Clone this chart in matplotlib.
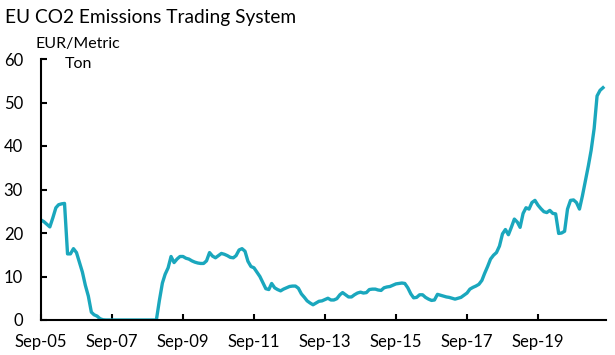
import matplotlib
matplotlib.use("Agg")
import matplotlib.pyplot as plt
import matplotlib.dates as mdates
import pandas as pd
import numpy as np

start = "2005-09-01"
prices = [
    23.0, 22.6, 22.0, 21.4, 23.5, 25.8, 26.5, 26.7, 26.8, 15.2,
    15.2, 16.4, 15.5, 13.3, 11.0, 8.0, 5.5, 1.8, 1.2, 0.9,
    0.3, 0.05, 0, 0, 0, 0, 0, 0, 0, 0,
    0, 0, 0, 0, 0, 0, 0, 0, 0, 0,
    4.5, 8.5, 10.5, 12.0, 14.6, 13.2, 14.0, 14.6, 14.6, 14.2,
    14.0, 13.6, 13.3, 13.1, 13.0, 13.0, 13.6, 15.5, 14.7, 14.3,
    14.8, 15.3, 15.1, 14.8, 14.4, 14.3, 14.8, 16.1, 16.4, 15.8,
    13.5, 12.3, 12.0, 11.0, 10.0, 8.6, 7.2, 7.0, 8.4, 7.4,
    7.0, 6.7, 7.1, 7.4, 7.7, 7.8, 7.8, 7.3, 6.0, 5.2,
    4.4, 3.9, 3.5, 3.9, 4.3, 4.4, 4.7, 5.0, 4.6, 4.6,
    4.9, 5.8, 6.3, 5.8, 5.3, 5.3, 5.8, 6.2, 6.4, 6.2,
    6.3, 7.0, 7.1, 7.1, 6.9, 6.8, 7.4, 7.6, 7.7, 8.0,
    8.3, 8.4, 8.5, 8.4, 7.4, 6.0, 5.1, 5.2, 5.8, 5.8,
    5.2, 4.8, 4.5, 4.6, 5.9, 5.7, 5.5, 5.3, 5.2, 5.0,
    4.8, 5.0, 5.2, 5.7, 6.2, 7.1, 7.5, 7.8, 8.2, 9.1,
    10.7, 12.3, 14.0, 14.9, 15.5, 17.0, 19.8, 20.8, 19.6, 21.3,
    23.2, 22.5, 21.3, 24.5, 25.8, 25.5, 27.0, 27.5, 26.4, 25.6,
    24.9, 24.7, 25.2, 24.5, 24.4, 19.9, 20.0, 20.4, 25.5, 27.5,
    27.6, 27.0, 25.5, 28.5, 32.0, 35.5, 39.0, 44.0, 51.5, 52.8,
    53.4,
]
yticks = [0, 10, 20, 30, 40, 50, 60]
title = "EU CO2 Emissions Trading System"
unit_label = "EUR/Metric\nTon"

dates = pd.date_range(start, periods=len(prices), freq="MS")

plt.rcParams['font.family'] = ['Lato', 'DejaVu Sans']

fig = plt.figure(figsize=(6.15, 3.55), dpi=100)
ax = fig.add_axes([41/615, 1 - 320/355, (606-41)/615, (320-59)/355])

ax.plot(dates, prices, color="#1AA7BD", lw=2.4, solid_joinstyle="round")

ax.set_ylim(0, 60)
ax.set_yticks(yticks)
xmin = pd.Timestamp("2005-09-01")
xmax = pd.Timestamp("2021-08-01")
ax.set_xlim(xmin, xmax)
ticks = pd.date_range("2005-09-01", "2019-09-01", freq="24MS")
ax.set_xticks(ticks)
ax.xaxis.set_major_formatter(mdates.DateFormatter("%b-%y"))

for s in ["top", "right"]:
    ax.spines[s].set_visible(False)
for s in ["left", "bottom"]:
    ax.spines[s].set_linewidth(1.5)
    ax.spines[s].set_color("black")
ax.tick_params(axis="both", direction="in", length=4, width=1.5, labelsize=12, colors="black")
ax.tick_params(axis="y", pad=13)
ax.tick_params(axis="x", pad=10)
ax.set_clip_on(False)

fig.text(5/615, 1 - 18/355, title, fontsize=13.8, ha="left", va="center")
fig.text(78/615, 1 - 54/355, unit_label, fontsize=11.5, ha="center", va="center",
         linespacing=1.55)

fig.savefig("out.png", dpi=100)
